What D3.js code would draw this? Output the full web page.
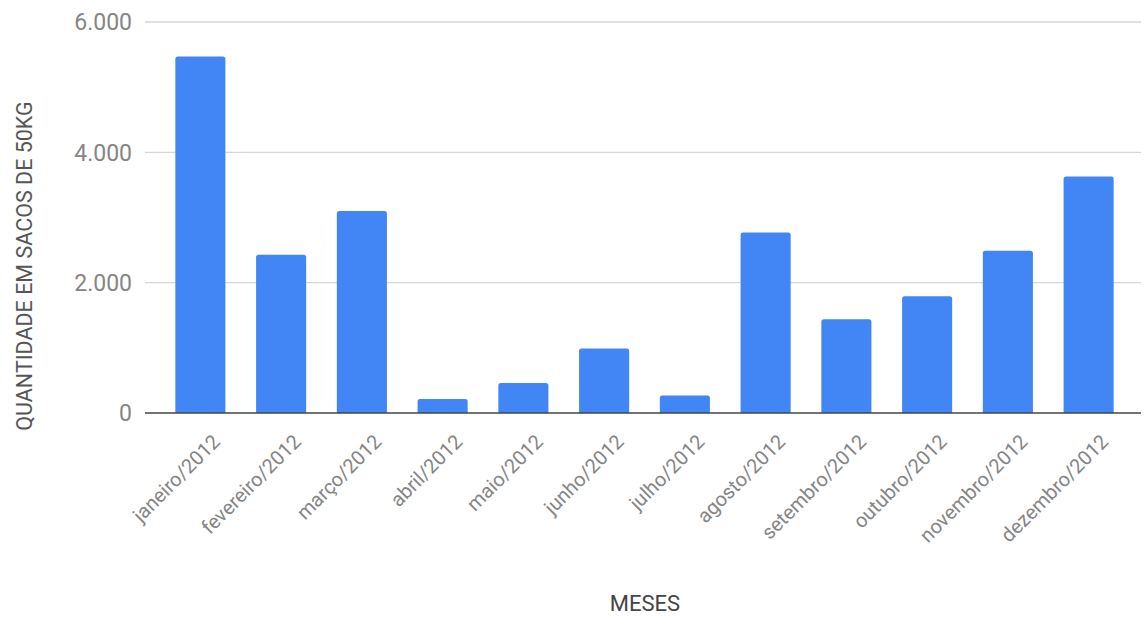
<!DOCTYPE html>
<html>
<head>
<meta charset="utf-8">
<script src="https://cdn.jsdelivr.net/npm/d3@7"></script>
<style>
  html, body { margin: 0; padding: 0; background: #fff; }
  svg { display: block; font-family: Roboto, "Noto Sans", Arial, sans-serif; }
</style>
</head>
<body>
<svg id="chart" width="1145" height="617"></svg>
<script>
// Monthly quantities (bags of 50 kg), 2012
const months = [
  "janeiro/2012", "fevereiro/2012", "março/2012", "abril/2012",
  "maio/2012", "junho/2012", "julho/2012", "agosto/2012",
  "setembro/2012", "outubro/2012", "novembro/2012", "dezembro/2012"
];
const quantities = [5470, 2430, 3100, 215, 460, 990, 270, 2770, 1440, 1790, 2490, 3630];
const yTicks = [0, 2000, 4000, 6000];
const yTitle = "QUANTIDADE EM SACOS DE 50KG";
const xTitle = "MESES";

const svg = d3.select("#chart");
const plot = { left: 145, right: 1141, top: 22, bottom: 413 };

const x = d3.scaleBand()
  .domain(months)
  .range([160, 1129])
  .paddingInner(0.38)
  .paddingOuter(0.19);

const y = d3.scaleLinear()
  .domain([0, 6000])
  .range([plot.bottom, plot.top]);

const fmt = v => d3.format(",")(v).replace(/,/g, ".");

// horizontal gridlines
svg.append("g")
  .selectAll("line")
  .data(yTicks.filter(d => d !== 0))
  .join("line")
  .attr("x1", plot.left).attr("x2", plot.right)
  .attr("y1", d => y(d)).attr("y2", d => y(d))
  .attr("stroke", "#d6d6d6").attr("stroke-width", 1.3);

// y tick labels
svg.append("g")
  .selectAll("text")
  .data(yTicks)
  .join("text")
  .attr("x", 132)
  .attr("y", d => y(d))
  .attr("dy", "0.36em")
  .attr("text-anchor", "end")
  .attr("font-size", 23)
  .attr("fill", "#858585")
  .text(fmt);

// bars with slightly rounded tops
const r = 2.5;
svg.append("g")
  .selectAll("path")
  .data(months.map((m, i) => ({ m, v: quantities[i] })))
  .join("path")
  .attr("fill", "#4285f4")
  .attr("d", d => {
    const x0 = x(d.m), w = x.bandwidth(), y0 = y(d.v), y1 = y(0);
    return `M${x0},${y1}V${y0 + r}Q${x0},${y0} ${x0 + r},${y0}` +
           `H${x0 + w - r}Q${x0 + w},${y0} ${x0 + w},${y0 + r}V${y1}Z`;
  });

// baseline
svg.append("line")
  .attr("x1", plot.left).attr("x2", plot.right)
  .attr("y1", y(0)).attr("y2", y(0))
  .attr("stroke", "#444").attr("stroke-width", 1.5);

// x tick labels, rotated
svg.append("g")
  .selectAll("text")
  .data(months)
  .join("text")
  .attr("transform", d => `translate(${x(d) + x.bandwidth() / 2 + 16},${y(0) + 25}) rotate(-45)`)
  .attr("text-anchor", "end")
  .attr("dy", "0.35em")
  .attr("font-size", 20)
  .attr("fill", "#858585")
  .text(d => d);

// axis titles
svg.append("text")
  .attr("transform", `translate(24,${266}) rotate(-90)`)
  .attr("text-anchor", "middle")
  .attr("dy", "0.35em")
  .attr("font-size", 21.5)
  .attr("fill", "#555")
  .text(yTitle);

svg.append("text")
  .attr("x", 645)
  .attr("y", 611)
  .attr("text-anchor", "middle")
  .attr("font-size", 22)
  .attr("fill", "#444")
  .text(xTitle);
</script>
</body>
</html>
